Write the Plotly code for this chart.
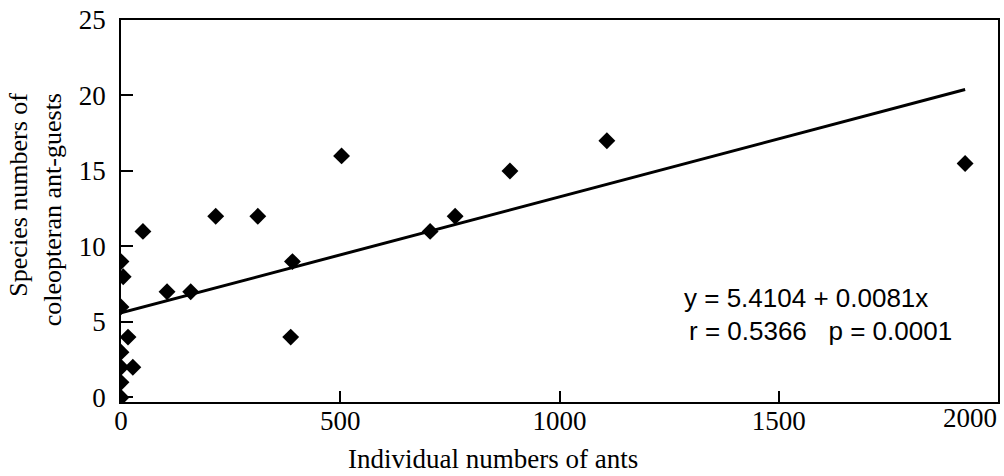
import plotly.graph_objects as go

# ---- data ----
ants = [0, 5, 0, 16, 0, 0, 27, 0, 0, 50, 105, 159, 216, 312, 391, 387, 503, 705, 762, 887, 1108, 1925]
species = [9, 8, 6, 4, 3, 2, 2, 1, 0, 11, 7, 7, 12, 12, 9, 4, 16, 11, 12, 15, 17, 15.5]

# fitted regression line (end points as drawn)
fit_x = [0, 1925]
fit_y = [5.6, 20.4]

x_ticks = [0, 500, 1000, 1500, 2000]
x_ticktext = ["0", "500", "1000", "1500", ""]
y_ticks = [0, 5, 10, 15, 20, 25]

eq_line1 = "y = 5.4104 + 0.0081x"
eq_line2 = "r = 0.5366\u00a0\u00a0\u00a0p = 0.0001"

# ---- layout geometry ----
W, H = 1004, 476
L, R, T, B = 121, 4, 20, 74
PW, PH = W - L - R, H - T - B


def px(xp):
    return (xp - L) / PW


def py(yp):
    return (H - B - yp) / PH


serif = "Liberation Serif, Times New Roman, serif"
sans = "Liberation Sans, Arial, sans-serif"

fig = go.Figure()
fig.add_trace(go.Scatter(x=fit_x, y=fit_y, mode="lines",
                         line=dict(color="black", width=3), hoverinfo="skip"))
fig.add_trace(go.Scatter(x=ants, y=species, mode="markers",
                         marker=dict(symbol="diamond", size=13, color="black",
                                     line=dict(width=0))))

fig.update_layout(
    width=W, height=H,
    margin=dict(l=L, r=R, t=T, b=B),
    paper_bgcolor="white", plot_bgcolor="white",
    showlegend=False,
    xaxis=dict(range=[0, 2000], tickvals=x_ticks, ticktext=x_ticktext,
               ticks="inside", ticklen=11, tickwidth=1.5, tickcolor="black",
               showline=True, linecolor="black", linewidth=1.5, mirror=True,
               showgrid=False, zeroline=False, ticklabelstandoff=-6,
               tickfont=dict(family=serif, size=27, color="black")),
    yaxis=dict(range=[-0.3, 25], tickvals=y_ticks,
               ticks="inside", ticklen=12, tickwidth=1.5, tickcolor="black",
               showline=True, linecolor="black", linewidth=1.5, mirror=True,
               showgrid=False, zeroline=False, ticklabelstandoff=8,
               tickfont=dict(family=serif, size=27, color="black")),
    annotations=[
        dict(text="2000", xref="paper", yref="paper", x=px(1001), y=py(401),
             xanchor="right", yanchor="top", showarrow=False,
             font=dict(family=serif, size=27, color="black")),
        dict(text="Individual numbers of ants", xref="paper", yref="paper",
             x=px(494), y=py(459), xanchor="center", yanchor="middle",
             showarrow=False, font=dict(family=serif, size=27, color="black")),
        dict(text="Species numbers of<br>coleopteran ant-guests", xref="paper",
             yref="paper", x=px(35), y=py(90), xanchor="center", yanchor="top",
             textangle=-90, align="right", showarrow=False,
             font=dict(family=serif, size=26, color="black")),
        dict(text=eq_line1, xref="paper", yref="paper", x=px(683), y=py(298),
             xanchor="left", yanchor="middle", showarrow=False,
             font=dict(family=sans, size=26, color="black")),
        dict(text=eq_line2, xref="paper", yref="paper", x=px(688), y=py(331),
             xanchor="left", yanchor="middle", showarrow=False,
             font=dict(family=sans, size=26, color="black")),
    ],
)

fig.write_html("out.html")
